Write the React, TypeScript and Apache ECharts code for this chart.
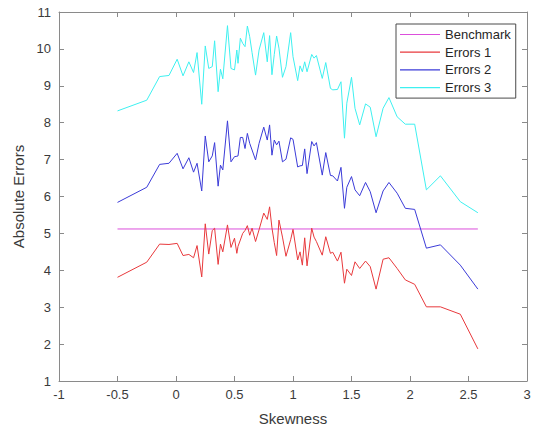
import React, { useEffect, useRef } from "react";
import * as echarts from "echarts";

// Skewness values shared by every error curve
const skewness = [
  -0.5, -0.25, -0.14, -0.06, 0.01, 0.06, 0.11, 0.15, 0.18, 0.22, 0.25, 0.28, 0.31, 0.33, 0.36, 0.38,
  0.4, 0.44, 0.47, 0.5, 0.52, 0.53, 0.55, 0.57, 0.59, 0.61, 0.63, 0.65, 0.68, 0.71, 0.75, 0.78, 0.8,
  0.82, 0.84, 0.86, 0.88, 0.91, 0.94, 0.98, 1.0, 1.04, 1.06, 1.08, 1.1, 1.12, 1.16, 1.18, 1.2, 1.25,
  1.28, 1.32, 1.34, 1.38, 1.41, 1.44, 1.46, 1.5, 1.53, 1.57, 1.62, 1.66, 1.71, 1.77, 1.82, 1.89,
  1.96, 2.04, 2.14, 2.26, 2.43, 2.58,
];

const benchmark = 5.12;

const errors1 = [
  3.81, 4.22, 4.71, 4.7, 4.73, 4.4, 4.43, 4.34, 4.67, 3.82, 5.26, 4.44, 5.08, 5.14, 4.16, 4.71,
  4.5, 5.23, 4.62, 4.87, 4.46, 4.65, 4.82, 5.0, 5.08, 5.21, 4.95, 5.14, 4.78, 5.1, 5.55, 5.38, 5.72,
  5.15, 4.75, 4.4, 5.36, 4.9, 4.38, 4.83, 5.11, 4.28, 4.5, 4.14, 4.88, 4.12, 5.14, 4.9, 4.78, 4.41,
  4.91, 4.46, 4.49, 4.25, 4.49, 3.65, 4.03, 3.86, 4.23, 4.05, 4.25, 4.1, 3.49, 4.3, 4.34, 4.05,
  3.74, 3.62, 3.01, 3.01, 2.81, 1.87,
];

const errors2 = [
  5.84, 6.25, 6.87, 6.9, 7.17, 6.75, 7.05, 6.66, 6.9, 6.15, 7.64, 6.94, 7.1, 7.46, 6.28, 6.85,
  6.72, 8.05, 6.94, 7.08, 7.09, 7.1, 7.6, 7.6, 7.3, 7.71, 7.44, 7.26, 6.99, 7.44, 7.88, 7.53, 7.94,
  7.12, 7.53, 7.4, 7.5, 6.94, 7.01, 7.59, 7.55, 6.8, 6.83, 6.84, 7.29, 6.62, 7.49, 7.37, 7.46, 6.58,
  7.19, 6.57, 6.56, 6.42, 6.79, 5.68, 6.25, 6.54, 6.18, 6.02, 6.38, 6.13, 5.56, 6.15, 6.38, 6.09,
  5.68, 5.65, 4.6, 4.69, 4.14, 3.49,
];

const errors3 = [
  8.32, 8.61, 9.25, 9.28, 9.72, 9.27, 9.65, 9.36, 9.9, 8.5, 10.08, 9.47, 9.52, 10.22, 8.84, 9.45,
  9.19, 10.63, 9.47, 9.43, 9.97, 9.61, 10.29, 10.15, 10.06, 10.62, 10.33, 9.9, 9.29, 9.97, 10.44,
  9.65, 10.36, 9.3, 9.85, 10.35, 10.02, 9.23, 9.52, 10.44, 9.79, 9.14, 9.54, 9.38, 9.65, 9.38, 9.85,
  9.75, 9.82, 9.2, 9.63, 8.93, 8.89, 8.9, 9.11, 7.58, 8.53, 9.23, 8.39, 7.94, 8.51, 8.42, 7.62, 8.39,
  8.68, 8.16, 7.96, 7.96, 6.18, 6.56, 5.86, 5.56,
];

const seriesNames = ["Benchmark", "Errors 1", "Errors 2", "Errors 3"];
const seriesColors = ["#dc4fdc", "#e8393c", "#3b3bd8", "#3ef0f0"];

const FONT = "'Liberation Sans', Arial, Helvetica, sans-serif";
const AXIS_COLOR = "#8a8a8a";
const LABEL_COLOR = "#3a3a3a";

const pairs = (ys: number[]) => skewness.map((x, i) => [x, ys[i]]);

export default function App() {
  const ref = useRef<HTMLDivElement>(null);

  useEffect(() => {
    if (!ref.current) return;
    const chart = echarts.init(ref.current, undefined, { renderer: "svg" });

    const frameAxis = {
      axisLine: { show: true, onZero: false, lineStyle: { color: AXIS_COLOR, width: 1 } },
      axisTick: { show: true, inside: true, length: 5, lineStyle: { color: AXIS_COLOR } },
      splitLine: { show: false },
    };

    const lineSeries = (name: string, color: string, data: number[][]) => ({
      name,
      type: "line",
      data,
      symbol: "none",
      showSymbol: false,
      lineStyle: { color, width: 1 },
      itemStyle: { color },
      xAxisIndex: 0,
      yAxisIndex: 0,
    });

    chart.setOption({
      animation: false,
      backgroundColor: "#ffffff",
      textStyle: { fontFamily: FONT },
      grid: { left: 59, right: 23, top: 12, bottom: 54, containLabel: false },
      legend: {
        data: seriesNames,
        orient: "vertical",
        left: 396,
        top: 24,
        width: 124,
        padding: [3, 5, 3, 4],
        icon: "rect",
        itemGap: 2.7,
        itemWidth: 40,
        itemHeight: 1.2,
        itemTextGap: 6,
        borderColor: "#4a4a4a",
        borderWidth: 1,
        backgroundColor: "#ffffff",
        textStyle: { fontFamily: FONT, fontSize: 13, lineHeight: 15, color: "#262626" },
      },
      xAxis: [
        {
          type: "value",
          min: -1,
          max: 3,
          interval: 0.5,
          position: "bottom",
          name: "Skewness",
          nameLocation: "middle",
          nameGap: 30,
          nameTextStyle: { fontFamily: FONT, fontSize: 15, color: LABEL_COLOR },
          axisLabel: { fontFamily: FONT, fontSize: 13, color: LABEL_COLOR, margin: 7 },
          ...frameAxis,
        },
        {
          type: "value",
          min: -1,
          max: 3,
          interval: 0.5,
          position: "top",
          axisLabel: { show: false },
          ...frameAxis,
        },
      ],
      yAxis: [
        {
          type: "value",
          min: 1,
          max: 11,
          interval: 1,
          position: "left",
          name: "Absolute Errors",
          nameLocation: "middle",
          nameGap: 32,
          nameRotate: 90,
          nameTextStyle: { fontFamily: FONT, fontSize: 15, color: LABEL_COLOR },
          axisLabel: { fontFamily: FONT, fontSize: 13, color: LABEL_COLOR, margin: 8 },
          ...frameAxis,
        },
        {
          type: "value",
          min: 1,
          max: 11,
          interval: 1,
          position: "right",
          axisLabel: { show: false },
          ...frameAxis,
        },
      ],
      series: [
        lineSeries(seriesNames[0], seriesColors[0], [
          [skewness[0], benchmark],
          [skewness[skewness.length - 1], benchmark],
        ]),
        lineSeries(seriesNames[1], seriesColors[1], pairs(errors1)),
        lineSeries(seriesNames[2], seriesColors[2], pairs(errors2)),
        lineSeries(seriesNames[3], seriesColors[3], pairs(errors3)),
      ],
    });

    return () => chart.dispose();
  }, []);

  return (
    <div
      ref={ref}
      style={{ position: "fixed", left: 0, top: 0, width: 550, height: 435, background: "#fff" }}
    />
  );
}
